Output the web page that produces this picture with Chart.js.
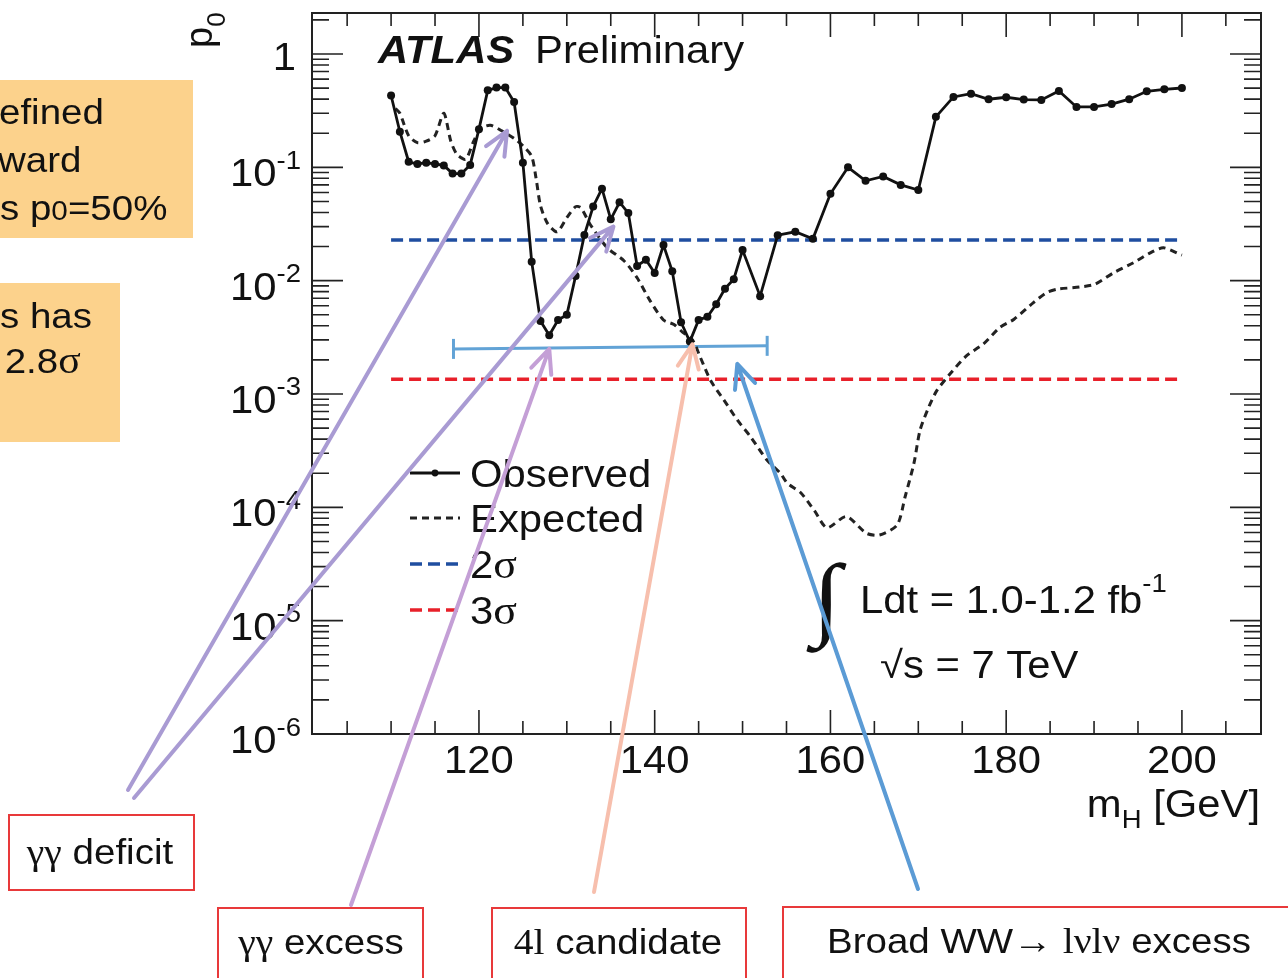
<!DOCTYPE html>
<html>
<head>
<meta charset="utf-8">
<script src="https://cdn.jsdelivr.net/npm/chart.js@4.4.1/dist/chart.umd.min.js"></script>
<style>
  html, body { margin: 0; padding: 0; background: #fff; }
  canvas { display: block; }
</style>
</head>
<body>
<canvas id="p0Chart" width="1288" height="978"></canvas>
<script>
// Local p0 scan vs Higgs mass (GeV)
const OBS_MASS = [110, 111, 112, 113, 114, 115, 116, 117, 118, 119, 120, 121, 122, 123, 124, 125, 126, 127, 128, 129,
  130, 131, 132, 133, 134, 135, 136, 137, 138, 139, 140, 141, 142, 143, 144, 145, 146, 147, 148, 149, 150,
  152, 154, 156, 158, 160, 162, 164, 166, 168, 170, 172, 174, 176, 178, 180, 182, 184, 186, 188, 190, 192, 194, 196, 198, 200];
const OBS_P0 = [0.43, 0.206, 0.112, 0.107, 0.110, 0.107, 0.104, 0.088, 0.088, 0.105, 0.217, 0.478, 0.505, 0.505, 0.377, 0.110, 0.0147, 0.0044, 0.0033, 0.0045,
  0.0050, 0.0110, 0.0253, 0.0452, 0.0648, 0.0348, 0.0492, 0.0395, 0.0135, 0.0153, 0.0117, 0.0206, 0.0121, 0.0043, 0.0029, 0.0045, 0.0048, 0.0062, 0.0085, 0.0103, 0.0186,
  0.0073, 0.0252, 0.0270, 0.0234, 0.0584, 0.100, 0.076, 0.083, 0.070, 0.063, 0.279, 0.418, 0.447, 0.399, 0.415, 0.396, 0.393, 0.472, 0.341, 0.341, 0.362, 0.399, 0.469, 0.488, 0.501];

const EXP_MASS = [110.5, 111, 112, 113, 114, 115, 116, 116.8, 117.5, 118.5, 119.4, 120.2, 121.3, 122.6, 124, 125, 126, 126.5, 127, 127.8,
  128.9, 130, 131, 131.6, 132.7, 134.6, 136.5, 138, 139.5, 141, 142.2, 143.2, 144.3, 145.2, 146.4, 147.9, 149.4, 150.9, 152.8, 154.3,
  155.1, 156.6, 158.2, 159.6, 161.8, 164.1, 165.6, 167.6, 168.5, 169.5, 170.2, 171.2, 172.1, 173.6, 175.5, 177.4, 179.3, 180.9, 183.1, 184.6,
  185.8, 188.4, 190.1, 192.2, 194.5, 196.4, 197.9, 200];
const EXP_P0 = [0.33, 0.30, 0.19, 0.165, 0.17, 0.19, 0.30, 0.17, 0.13, 0.118, 0.17, 0.22, 0.235, 0.21, 0.18, 0.155, 0.125, 0.08, 0.046, 0.032,
  0.027, 0.036, 0.045, 0.044, 0.031, 0.0195, 0.015, 0.0106, 0.0066, 0.0045, 0.0041, 0.0035, 0.0030, 0.0021, 0.0013, 0.00088, 0.00059, 0.00042, 0.00026, 0.0002,
  0.000163, 0.000135, 0.000093, 0.000066, 0.000083, 0.000059, 0.000057, 0.00007, 0.000124, 0.000244, 0.00048, 0.00077, 0.00107, 0.0015, 0.00218, 0.00276, 0.00387, 0.00457, 0.0064, 0.00785,
  0.0084, 0.0088, 0.0093, 0.0117, 0.0144, 0.0176, 0.0195, 0.0168];

const SIGMA_MASS = [110, 200];
const P0_2SIGMA = 0.0228;
const P0_3SIGMA = 0.00135;

// mass window of the broad excess
const RANGE_MASS = [117.1, 152.8];
const RANGE_P0 = [0.0025, 0.00266];

const X_LABELS = [120, 140, 160, 180, 200];
const Y_DECADES = [-6, -5, -4, -3, -2, -1, 0];

const SANS = '"Liberation Sans", Arial, Helvetica, sans-serif';
const SERIF = '"Liberation Serif", "Times New Roman", serif';
const SX = 1.1;

const pts = (xs, ys) => xs.map((x, i) => ({ x, y: ys[i] }));

function drawRuns(ctx, runs, x, y, align, sx) {
  let w = 0;
  runs.forEach(r => { ctx.font = r.font; r.w = ctx.measureText(r.t).width * sx; w += r.w; });
  let cx = align === 'right' ? x - w : align === 'center' ? x - w / 2 : x;
  runs.forEach(r => {
    ctx.save();
    ctx.font = r.font;
    ctx.fillStyle = r.color || '#111';
    ctx.textAlign = 'left';
    ctx.textBaseline = 'alphabetic';
    ctx.translate(cx, y + (r.dy || 0));
    ctx.scale(sx, 1);
    ctx.fillText(r.t, 0, 0);
    ctx.restore();
    cx += r.w;
  });
}

function arrow(ctx, x0, y0, x1, y1, color) {
  const a = Math.atan2(y1 - y0, x1 - x0), L = 26, s = 0.42;
  ctx.save();
  ctx.strokeStyle = color;
  ctx.lineWidth = 4;
  ctx.lineCap = 'round';
  ctx.lineJoin = 'round';
  ctx.beginPath();
  ctx.moveTo(x0, y0);
  ctx.lineTo(x1, y1);
  ctx.moveTo(x1 - L * Math.cos(a - s), y1 - L * Math.sin(a - s));
  ctx.lineTo(x1, y1);
  ctx.lineTo(x1 - L * Math.cos(a + s), y1 - L * Math.sin(a + s));
  ctx.stroke();
  ctx.restore();
}

// slide call-outs: tail of the arrow, and the (mass, p0) it points to
const CALLOUTS = [
  { color: '#a99bd3', tail: [128, 790], head: [123.2, 0.21] },
  { color: '#a99bd3', tail: [134, 798], head: [135.3, 0.030] },
  { color: '#c49fd6', tail: [351, 905], head: [128.0, 0.0025] },
  { color: '#f7bfad', tail: [594, 892], head: [144.3, 0.00275] },
  { color: '#5b9bd5', tail: [918, 889], head: [149.4, 0.00184] }
];

const atlasFrame = {
  id: 'atlasFrame',
  beforeDraw(chart) {
    const ctx = chart.ctx;
    ctx.save();
    ctx.fillStyle = '#fff';
    ctx.fillRect(0, 0, chart.width, chart.height);

    // orange note boxes on the left
    ctx.fillStyle = '#fcd28c';
    ctx.fillRect(0, 80, 193, 158);
    ctx.fillRect(0, 283, 120, 159);
    ctx.restore();
    const f = '35px ' + SANS;
    drawRuns(ctx, [{ t: 'efined', font: f }], -1, 124, 'left', SX);
    drawRuns(ctx, [{ t: 'ward', font: f }], -2, 172, 'left', SX);
    drawRuns(ctx, [{ t: 's p', font: f }, { t: '0', font: '27px ' + SANS }, { t: '=50%', font: f }], 0, 220, 'left', SX);
    drawRuns(ctx, [{ t: 's has', font: f }], 0, 328, 'left', SX);
    drawRuns(ctx, [{ t: ' 2.8', font: f }, { t: 'σ', font: '38px ' + SERIF }], -6, 373, 'left', SX);
  },
  afterDraw(chart) {
    const ctx = chart.ctx;
    const xs = chart.scales.x, ys = chart.scales.y, a = chart.chartArea;
    ctx.save();
    ctx.strokeStyle = '#222';
    ctx.lineWidth = 2;
    ctx.strokeRect(a.left, a.top, a.right - a.left, a.bottom - a.top);

    // x ticks on bottom and top
    ctx.beginPath();
    for (let m = 105; m <= 205; m += 5) {
      const px = xs.getPixelForValue(m);
      const len = m % 20 === 0 ? 24 : 13;
      ctx.moveTo(px, a.bottom); ctx.lineTo(px, a.bottom - len);
      ctx.moveTo(px, a.top); ctx.lineTo(px, a.top + len);
    }
    // log y ticks on left and right
    Y_DECADES.forEach(d => {
      for (let k = 1; k <= 9; k++) {
        const v = k * Math.pow(10, d);
        if (v > ys.max || v < ys.min) continue;
        const py = ys.getPixelForValue(v);
        const len = k === 1 ? 31 : 17;
        ctx.moveTo(a.left, py); ctx.lineTo(a.left + len, py);
        ctx.moveTo(a.right, py); ctx.lineTo(a.right - len, py);
      }
    });
    ctx.lineWidth = 1.6;
    ctx.stroke();
    ctx.restore();

    const big = '38px ' + SANS, small = '25px ' + SANS;
    X_LABELS.forEach(m => {
      drawRuns(ctx, [{ t: String(m), font: big }], xs.getPixelForValue(m), 773, 'center', SX);
    });
    Y_DECADES.forEach(d => {
      const py = ys.getPixelForValue(Math.pow(10, d));
      if (d === 0) {
        drawRuns(ctx, [{ t: '1', font: big }], 296, py + 16.5, 'right', SX);
      } else {
        drawRuns(ctx, [{ t: '10', font: big, dy: 19 }, { t: '-' + (-d), font: small, dy: 1.5 }], 301, py, 'right', SX);
      }
    });

    // axis titles
    drawRuns(ctx, [{ t: 'm', font: big }, { t: 'H', font: small, dy: 11 }, { t: ' [GeV]', font: big }], 1260, 817, 'right', SX);
    ctx.save();
    ctx.translate(212, 38);
    ctx.rotate(-Math.PI / 2);
    drawRuns(ctx, [{ t: 'p', font: big }, { t: '0', font: '26px ' + SANS, dy: 13 }], -10, 0, 'left', 1.0);
    ctx.restore();

    drawRuns(ctx, [{ t: 'ATLAS', font: 'italic bold 38px ' + SANS }], 378, 63, 'left', SX);
    drawRuns(ctx, [{ t: 'Preliminary', font: big }], 535, 63, 'left', SX);

    // luminosity and energy
    ctx.save();
    ctx.font = 'bold 92px ' + SERIF;
    ctx.fillStyle = '#111';
    ctx.translate(812, 628);
    ctx.scale(1.15, 1);
    ctx.fillText('∫', 0, 0);
    ctx.restore();
    drawRuns(ctx, [{ t: 'Ldt = 1.0-1.2 fb', font: big }, { t: '-1', font: small, dy: -21 }], 860, 613, 'left', SX);
    drawRuns(ctx, [{ t: '√s = 7 TeV', font: big }], 880, 678, 'left', SX);

    // legend
    const rows = [473, 518, 564, 610];
    const ds = chart.data.datasets;
    [0, 1, 2, 3].forEach(i => {
      const d = ds[i], y = rows[i];
      ctx.save();
      ctx.strokeStyle = d.borderColor;
      ctx.lineWidth = d.borderWidth;
      ctx.setLineDash(d.borderDash || []);
      ctx.beginPath();
      ctx.moveTo(410, y); ctx.lineTo(460, y);
      ctx.stroke();
      if (i === 0) {
        ctx.fillStyle = d.pointBackgroundColor;
        ctx.beginPath(); ctx.arc(435, y, 3.4, 0, Math.PI * 2); ctx.fill();
      }
      ctx.restore();
      const runs = i < 2
        ? [{ t: d.label, font: big }]
        : [{ t: d.label.charAt(0), font: big }, { t: 'σ', font: '40px ' + SERIF }];
      drawRuns(ctx, runs, 470, y + 14, 'left', SX);
    });

    // red-framed call-out labels
    ctx.save();
    ctx.strokeStyle = '#e8393a';
    ctx.lineWidth = 2;
    ctx.strokeRect(9, 815, 185, 75);
    ctx.strokeRect(218, 908, 205, 80);
    ctx.strokeRect(492, 908, 254, 80);
    ctx.strokeRect(783, 907, 510, 80);
    ctx.restore();
    const lf = '35px ' + SANS, lg = '36px ' + SERIF;
    drawRuns(ctx, [{ t: 'γγ', font: lg }, { t: ' deficit', font: lf }], 100, 864, 'center', SX);
    drawRuns(ctx, [{ t: 'γγ', font: lg }, { t: ' excess', font: lf }], 321, 954, 'center', SX);
    drawRuns(ctx, [{ t: '4l', font: lg }, { t: ' candidate', font: lf }], 618, 954, 'center', SX);
    drawRuns(ctx, [{ t: 'Broad WW', font: lf }, { t: '→ lνlν', font: lg }, { t: ' excess', font: lf }], 1039, 953, 'center', SX);

    CALLOUTS.forEach(c => {
      arrow(ctx, c.tail[0], c.tail[1], xs.getPixelForValue(c.head[0]), ys.getPixelForValue(c.head[1]), c.color);
    });
  }
};

new Chart(document.getElementById('p0Chart'), {
  type: 'line',
  data: {
    datasets: [
      {
        label: 'Observed',
        data: pts(OBS_MASS, OBS_P0),
        borderColor: '#111',
        borderWidth: 2.8,
        pointRadius: 4,
        pointBackgroundColor: '#111',
        pointBorderWidth: 0,
        tension: 0,
        order: 0
      },
      {
        label: 'Expected',
        data: pts(EXP_MASS, EXP_P0),
        borderColor: '#222',
        borderWidth: 3,
        borderDash: [7, 5],
        pointRadius: 0,
        tension: 0.25,
        order: 1
      },
      {
        label: '2σ',
        data: pts(SIGMA_MASS, [P0_2SIGMA, P0_2SIGMA]),
        borderColor: '#1f4ea0',
        borderWidth: 3.5,
        borderDash: [12, 6],
        pointRadius: 0,
        order: 2
      },
      {
        label: '3σ',
        data: pts(SIGMA_MASS, [P0_3SIGMA, P0_3SIGMA]),
        borderColor: '#e8202a',
        borderWidth: 3.5,
        borderDash: [12, 6],
        pointRadius: 0,
        order: 2
      },
      {
        label: 'window',
        data: pts(RANGE_MASS, RANGE_P0),
        borderColor: '#62a3d6',
        borderWidth: 3,
        pointStyle: 'line',
        rotation: 90,
        pointRadius: 10,
        pointBorderWidth: 3,
        pointBorderColor: '#62a3d6',
        order: 3
      }
    ]
  },
  options: {
    responsive: false,
    devicePixelRatio: 1,
    animation: false,
    layout: { padding: { left: 312, top: 7, right: 27, bottom: 244 } },
    plugins: { legend: { display: false }, tooltip: { enabled: false } },
    scales: {
      x: { type: 'linear', min: 101, max: 209, display: false },
      y: { type: 'logarithmic', min: 1e-6, max: 2.3, display: false }
    }
  },
  plugins: [atlasFrame]
});
</script>
</body>
</html>
